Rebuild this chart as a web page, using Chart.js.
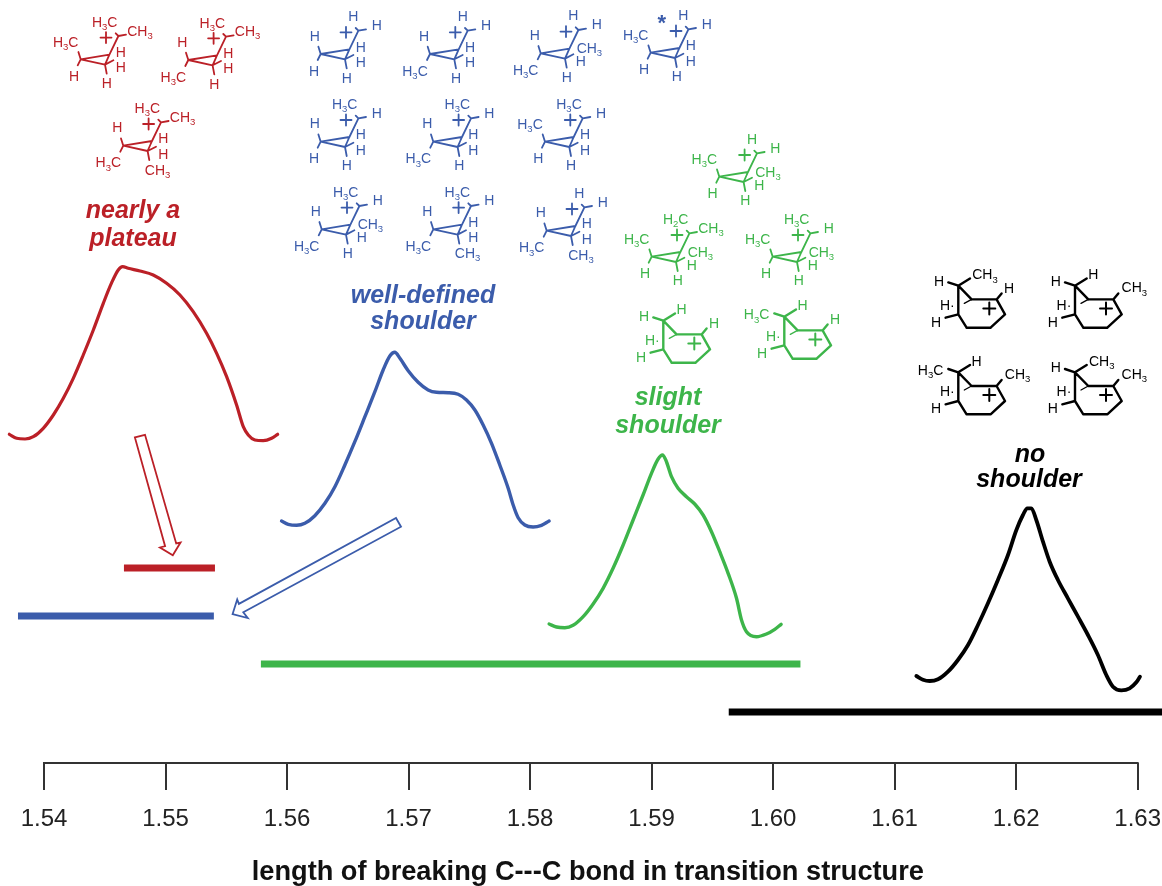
<!DOCTYPE html>
<html>
<head>
<meta charset="utf-8">
<script src="https://cdn.jsdelivr.net/npm/chart.js@4/dist/chart.umd.min.js"></script>
<style>
html,body{margin:0;padding:0;background:#fff;overflow:hidden;width:1162px;height:886px}
canvas{display:block}
</style>
</head>
<body>
<canvas id="c" width="1176" height="886"></canvas>
<script>
// ---- data: x = C---C bond length, y = height above axis (arbitrary units)
const tickValues = [1.54,1.55,1.56,1.57,1.58,1.59,1.60,1.61,1.62,1.63];

const redX = [1.53715,1.53775,1.53844,1.53912,1.53994,1.54077,1.54159,1.54241,1.54323,1.54406,1.54488,1.54557,1.54611,1.54647,1.54693,1.5479,1.54899,1.55009,1.55119,1.55228,1.55338,1.55421,1.55503,1.55585,1.5564,1.55681,1.55736,1.55804,1.55873,1.55923];
const redY = [330.7,326.7,326,328.3,336.7,350,366.7,386.7,410,435,461.7,482.3,495,498.3,496.7,494,490,481.7,470,453.3,431.7,411.7,388.3,360,338.3,330,325,324.3,326.7,330.7];

const blueX = [1.55955,1.5601,1.56079,1.56147,1.56229,1.56312,1.56394,1.56476,1.56558,1.56641,1.56723,1.56791,1.56846,1.56887,1.56929,1.56997,1.57079,1.57161,1.5723,1.57326,1.57408,1.57477,1.57546,1.57614,1.57683,1.57751,1.5782,1.57861,1.57902,1.57957,1.58025,1.58094,1.58157];
const blueY = [244,240.7,239.7,241.7,249.3,261.7,278.3,300,323.3,348.3,373.3,395,409,412.7,406.7,394.3,382.7,375,372.7,372.3,370.7,365,355,340,321.7,300,276.7,260,247.3,240,238,239.7,244];

const greenX = [1.58157,1.58218,1.58286,1.58354,1.58437,1.58519,1.58601,1.58683,1.58766,1.58848,1.5893,1.58999,1.59054,1.5909,1.59117,1.59164,1.59218,1.59287,1.59355,1.59424,1.59493,1.59561,1.5963,1.59699,1.5974,1.59781,1.59863,1.59945,1.60014,1.60066];
const greenY = [141,138,137.3,139.7,148.3,161,176.7,196.7,220,245,270,291.7,306,310,305,288.3,276.7,268.3,261,250,233.3,213.3,191.7,166.7,145,133.3,128.3,131,135.7,140.7];

const blackX = [1.61179,1.61233,1.61289,1.61357,1.61439,1.61521,1.61604,1.61686,1.61768,1.6185,1.61933,1.62002,1.62056,1.62092,1.62125,1.62166,1.62221,1.62276,1.62344,1.62426,1.62509,1.62591,1.62673,1.62742,1.62797,1.62866,1.62934,1.62989,1.63019];
const blackY = [89,85.3,84,85.7,93.3,105,120,140,161.7,185,210,235,250,256.7,256.7,245,223.3,203.3,185,166.7,148.3,130,110,90,78.3,74.7,76.7,82.7,88.3];

const redRange = [1.54658,1.55407];     const redLevel = 197;
const blueRange = [1.53786,1.55398];    const blueLevel = 149;
const greenRange = [1.55785,1.60225];   const greenLevel = 101;
const blackRange = [1.59635,1.6326];    const blackLevel = 53;

const axisSpan = [1.54,1.63];
const axisLevel = 2;

const RED='#bb2027', BLUE='#3b5cab', GREEN='#3db54a', BLACK='#000000';

function pts(xs,ys){return xs.map((x,i)=>({x:x,y:ys[i]}));}
function curve(xs,ys,color,w){return {data:pts(xs,ys),borderColor:color,borderWidth:w,cubicInterpolationMode:'monotone',pointRadius:0,fill:false,clip:false,borderCapStyle:'round',borderJoinStyle:'round'};}
function range(r,level,color){return {data:[{x:r[0],y:level},{x:r[1],y:level}],borderColor:color,borderWidth:7,pointRadius:0,tension:0,clip:false,borderCapStyle:'butt'};}

// ---- decoration: structural formulae, captions and arrows
const FONT='"Liberation Sans", Arial, sans-serif';

function formula(ctx,text,cx,cy,size){
  const sub=size*0.68;
  let w=0;
  for(const ch of text){
    ctx.font=(/[0-9]/.test(ch)?sub:size)+'px '+FONT;
    w+=ctx.measureText(ch).width;
  }
  let x=cx-w/2;
  ctx.textAlign='left';ctx.textBaseline='alphabetic';
  for(const ch of text){
    const isSub=/[0-9]/.test(ch);
    ctx.font=(isSub?sub:size)+'px '+FONT;
    ctx.fillText(ch,x,cy+size*0.36+(isSub?size*0.22:0));
    x+=ctx.measureText(ch).width;
  }
}
function seg(ctx,x0,y0,pairs){
  ctx.beginPath();
  pairs.forEach(p=>{ctx.moveTo(x0+p[0],y0+p[1]);ctx.lineTo(x0+p[2],y0+p[3]);});
  ctx.stroke();
}
function plus(ctx,x,y,r){
  ctx.beginPath();ctx.moveTo(x-r,y);ctx.lineTo(x+r,y);ctx.moveTo(x,y-r);ctx.lineTo(x,y+r);ctx.stroke();
}
function cation(ctx,x,y,color,m){
  ctx.strokeStyle=color;ctx.fillStyle=color;ctx.lineWidth=1.8;ctx.lineCap='round';
  seg(ctx,x,y,[[0,0,28.7,-4.7],[0,0,24.3,5.3],[28.7,-4.7,24.3,5.3],[28.7,-4.7,37.7,-23.3],
    [37.7,-23.3,45.3,-24.7],[37.7,-23.3,35,-26],[0,0,-2.3,-7.3],[0,0,-3,6],[24.3,5.3,26,14.3],[24.3,5.3,32.7,1]]);
  plus(ctx,x+25.3,y-21.7,5.5);
  const s=14;
  if(m.t==='H')formula(ctx,'H',x+32.7,y-38,s);else formula(ctx,m.t,x+24,y-37.5,s);
  if(m.tr==='H')formula(ctx,'H',x+56,y-29,s);else formula(ctx,m.tr,x+59.3,y-28.7,s);
  if(m.r==='H')formula(ctx,'H',x+40,y-7.3,s);else formula(ctx,m.r,x+48.7,y-5,s);
  formula(ctx,'H',x+40,y+8,s);
  if(m.b==='H')formula(ctx,'H',x+26,y+23.7,s);else formula(ctx,m.b,x+34.3,y+24,s);
  if(m.lt==='H')formula(ctx,'H',x-6,y-18.3,s);else formula(ctx,m.lt,x-15,y-17.7,s);
  if(m.lb==='H')formula(ctx,'H',x-6.7,y+16.7,s);else formula(ctx,m.lb,x-15,y+16.7,s);
}
function ring(ctx,x,y,color,m){
  ctx.strokeStyle=color;ctx.fillStyle=color;ctx.lineWidth=2.4;ctx.lineCap='round';ctx.lineJoin='round';
  seg(ctx,x,y,[[0,0,13.3,13.7],[0,0,0,28.7],[13.3,13.7,38.3,13.7],[38.3,13.7,46.7,28.7],
    [46.7,28.7,32.3,42],[32.3,42,8.3,42],[8.3,42,0,28.7],[0,0,-10,-3.3],[0,0,11.7,-7.3],[0,28.7,-12.7,32],[38.3,13.7,43.3,7.7]]);
  ctx.lineWidth=1.3;
  seg(ctx,x,y,[[6,17.7,13.3,13.7]]);
  ctx.lineWidth=2;
  plus(ctx,x+31,y+22.7,6);
  const s=14;
  if(m.al==='H')formula(ctx,'H',x-19.3,y-5,s);else formula(ctx,m.al,x-27.7,y-2.3,s);
  if(m.ar==='H')formula(ctx,'H',x+18.3,y-11.7,s);else formula(ctx,m.ar,x+26.7,y-11.3,s);
  if(m.c==='H')formula(ctx,'H',x+50.7,y+2,s);else formula(ctx,m.c,x+59.3,y+1.7,s);
  formula(ctx,'H·',x-11,y+19,s);
  formula(ctx,'H',x-22.3,y+36,s);
}
const M='H3C',E='CH3';
const cations=[
 [80.7,59.3,RED,{t:M,tr:E,r:'H',b:'H',lt:M,lb:'H'}],
 [188.3,60,RED,{t:M,tr:E,r:'H',b:'H',lt:'H',lb:M}],
 [123.3,145.7,RED,{t:M,tr:E,r:'H',b:E,lt:'H',lb:M}],
 [320.7,54,BLUE,{t:'H',tr:'H',r:'H',b:'H',lt:'H',lb:'H'}],
 [430,54,BLUE,{t:'H',tr:'H',r:'H',b:'H',lt:'H',lb:M}],
 [540.7,53.3,BLUE,{t:'H',tr:'H',r:E,b:'H',lt:'H',lb:M}],
 [650.7,52.7,BLUE,{t:'H',tr:'H',r:'H',b:'H',lt:M,lb:'H'}],
 [320.7,141.7,BLUE,{t:M,tr:'H',r:'H',b:'H',lt:'H',lb:'H'}],
 [433.3,141.7,BLUE,{t:M,tr:'H',r:'H',b:'H',lt:'H',lb:M}],
 [545,141.7,BLUE,{t:M,tr:'H',r:'H',b:'H',lt:M,lb:'H'}],
 [321.7,229.3,BLUE,{t:M,tr:'H',r:E,b:'H',lt:'H',lb:M}],
 [433.3,229.3,BLUE,{t:M,tr:'H',r:'H',b:E,lt:'H',lb:M}],
 [546.7,230.7,BLUE,{t:'H',tr:'H',r:'H',b:E,lt:'H',lb:M}],
 [719.3,176.7,GREEN,{t:'H',tr:'H',r:E,b:'H',lt:M,lb:'H'}],
 [651.7,256.7,GREEN,{t:'H2C',tr:E,r:E,b:'H',lt:M,lb:'H'}],
 [772.7,256.7,GREEN,{t:M,tr:'H',r:E,b:'H',lt:M,lb:'H'}]
];
const rings=[
 [663.3,320.7,GREEN,{al:'H',ar:'H',c:'H'}],
 [784.3,316.7,GREEN,{al:M,ar:'H',c:'H'}],
 [958.3,285.7,BLACK,{al:'H',ar:E,c:'H'}],
 [1075,285.7,BLACK,{al:'H',ar:'H',c:E}],
 [958.3,372.3,BLACK,{al:M,ar:'H',c:E}],
 [1075,372.3,BLACK,{al:'H',ar:E,c:E}]
];
const captions=[
 ['nearly a',133,211,RED],['plateau',133,239,RED],
 ['well-defined',423,296,BLUE],['shoulder',423,322,BLUE],
 ['slight',668,398,GREEN],['shoulder',668,426,GREEN],
 ['no',1030,455,BLACK],['shoulder',1029,480,BLACK]
];
const arrows=[
 [RED,[[134.9,437.4],[145,434.8],[176.2,543.5],[180.5,542.5],[172.8,555.2],[160,547.5],[165.1,546.2]]],
 [BLUE,[[396,518],[401,526.7],[243.3,612.3],[247.7,618],[232.6,614],[237.2,599.5],[238.9,603.9]]]
];

const decor={
  id:'decor',
  afterDatasetsDraw(chart){
    const ctx=chart.ctx;
    ctx.save();
    cations.forEach(c=>cation(ctx,c[0],c[1],c[2],c[3]));
    rings.forEach(c=>ring(ctx,c[0],c[1],c[2],c[3]));
    ctx.fillStyle=BLUE;ctx.textAlign='center';ctx.textBaseline='middle';
    ctx.font='bold 22px '+FONT;ctx.fillText('*',661.7,24);
    captions.forEach(c=>{
      ctx.fillStyle=c[3];ctx.font='italic bold 25px '+FONT;
      ctx.textAlign='center';ctx.textBaseline='middle';ctx.fillText(c[0],c[1],c[2]);
    });
    arrows.forEach(a=>{
      ctx.strokeStyle=a[0];ctx.lineWidth=1.8;ctx.lineJoin='miter';
      ctx.beginPath();a[1].forEach((p,i)=>i?ctx.lineTo(p[0],p[1]):ctx.moveTo(p[0],p[1]));ctx.closePath();ctx.stroke();
    });
    ctx.restore();
  }
};

new Chart(document.getElementById('c'),{
  type:'line',
  data:{datasets:[
    curve(redX,redY,RED,3.2),
    curve(blueX,blueY,BLUE,3.4),
    curve(greenX,greenY,GREEN,3.4),
    curve(blackX,blackY,BLACK,3.8),
    range(redRange,redLevel,RED),
    range(blueRange,blueLevel,BLUE),
    range(greenRange,greenLevel,GREEN),
    range(blackRange,blackLevel,BLACK),
    {data:[{x:axisSpan[0],y:axisLevel},{x:axisSpan[1],y:axisLevel}],borderColor:'#333',borderWidth:2,pointRadius:0,tension:0,clip:false,borderCapStyle:'square'}
  ]},
  plugins:[decor],
  options:{
    responsive:false,animation:false,
    layout:{padding:0},
    plugins:{legend:{display:false},tooltip:{enabled:false}},
    scales:{
      x:{
        type:'linear',min:1.53638,max:1.633123,
        afterBuildTicks(s){s.ticks=tickValues.map(v=>({value:v}));},
        afterFit(s){s.height=123;},
        border:{display:false},
        grid:{drawOnChartArea:false,drawTicks:true,tickLength:27,color:'#333',lineWidth:2},
        ticks:{autoSkip:false,maxRotation:0,color:'#222',padding:15,font:{family:FONT,size:24},callback:v=>v.toFixed(2)},
        title:{display:true,text:'length of breaking C---C bond in transition structure',color:'#111',font:{family:FONT,size:27.2,weight:'bold'},padding:{top:0,bottom:-3}}
      },
      y:{type:'linear',display:false,min:2,max:765}
    }
  }
});
</script>
</body>
</html>
